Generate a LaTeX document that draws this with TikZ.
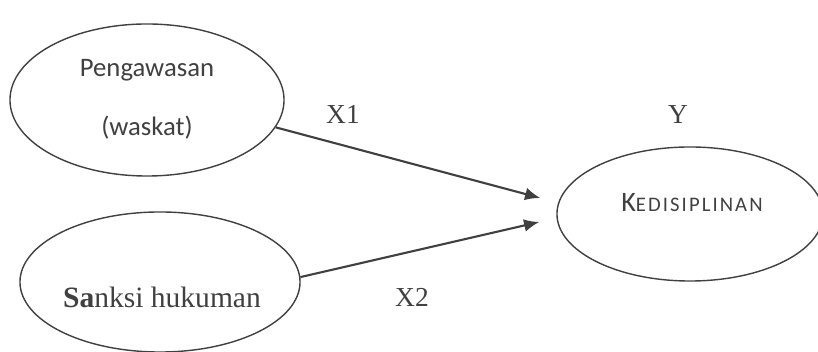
\documentclass[tikz,border=0pt]{standalone}
\usepackage{fontspec}
\setmainfont{Liberation Serif}
\newfontfamily\calibri{Carlito}
\newfontfamily\calibriwide[LetterSpace=10]{Carlito}
\usepackage{tikz}
\usetikzlibrary{shapes,arrows.meta,positioning,calc}
\definecolor{inkgray}{RGB}{64,64,64}

\begin{document}
\begin{tikzpicture}[x=0.025cm,y=-0.025cm]
  \tikzset{align=center,text=inkgray}
  \tikzset{vertex/.style = {shape=ellipse,draw=inkgray,line width=1pt,inner sep=0pt}}
  \tikzset{edge/.style = {draw=inkgray,line width=1.5pt,-{Latex[length=3.8mm,width=3.2mm]}}}
  \tikzset{sanstext/.style = {anchor=base,font=\calibri\fontsize{19}{23}\selectfont}}
  \tikzset{seriftext/.style = {anchor=base,font=\fontsize{19.5}{23}\selectfont}}

  \useasboundingbox (0,0) rectangle (818,352);

  % ellipses
  \node[vertex,minimum width=6.85cm,minimum height=3.8cm] (pengawasan) at (147,100) {};
  \node[vertex,minimum width=7cm,minimum height=3.5cm] (sanksi) at (160,282) {};
  \node[vertex,minimum width=6.65cm,minimum height=3.35cm] (kedisiplinan) at (690,214) {};

  % texts
  \node[sanstext] (peng1) at (147,77) {Pengawasan};
  \node[sanstext] (peng2) at (147,136) {(waskat)};
  \node[seriftext,font=\fontsize{21}{25}\selectfont] (sank) at (162,308) {\textbf{Sa}nksi hukuman};
  \node[sanstext,font=\calibriwide\fontsize{20}{24}\selectfont] (kedis) at (692,212) {K{\fontsize{14.7}{17}\selectfont EDISIPLINAN}};

  \node[seriftext] (x1) at (343,124) {X1};
  \node[seriftext] (x2) at (412,307) {X2};
  \node[seriftext] (y) at (678,124) {Y};

  % arrows
  \coordinate (tipA) at ([shift={(-16,-16)}]kedisiplinan.west);
  \coordinate (tipB) at ([shift={(-17,8)}]kedisiplinan.west);
  \draw[edge] (pengawasan.-12) -- (tipA);
  \draw[edge] (sanksi.2) -- (tipB);
\end{tikzpicture}
\end{document}
